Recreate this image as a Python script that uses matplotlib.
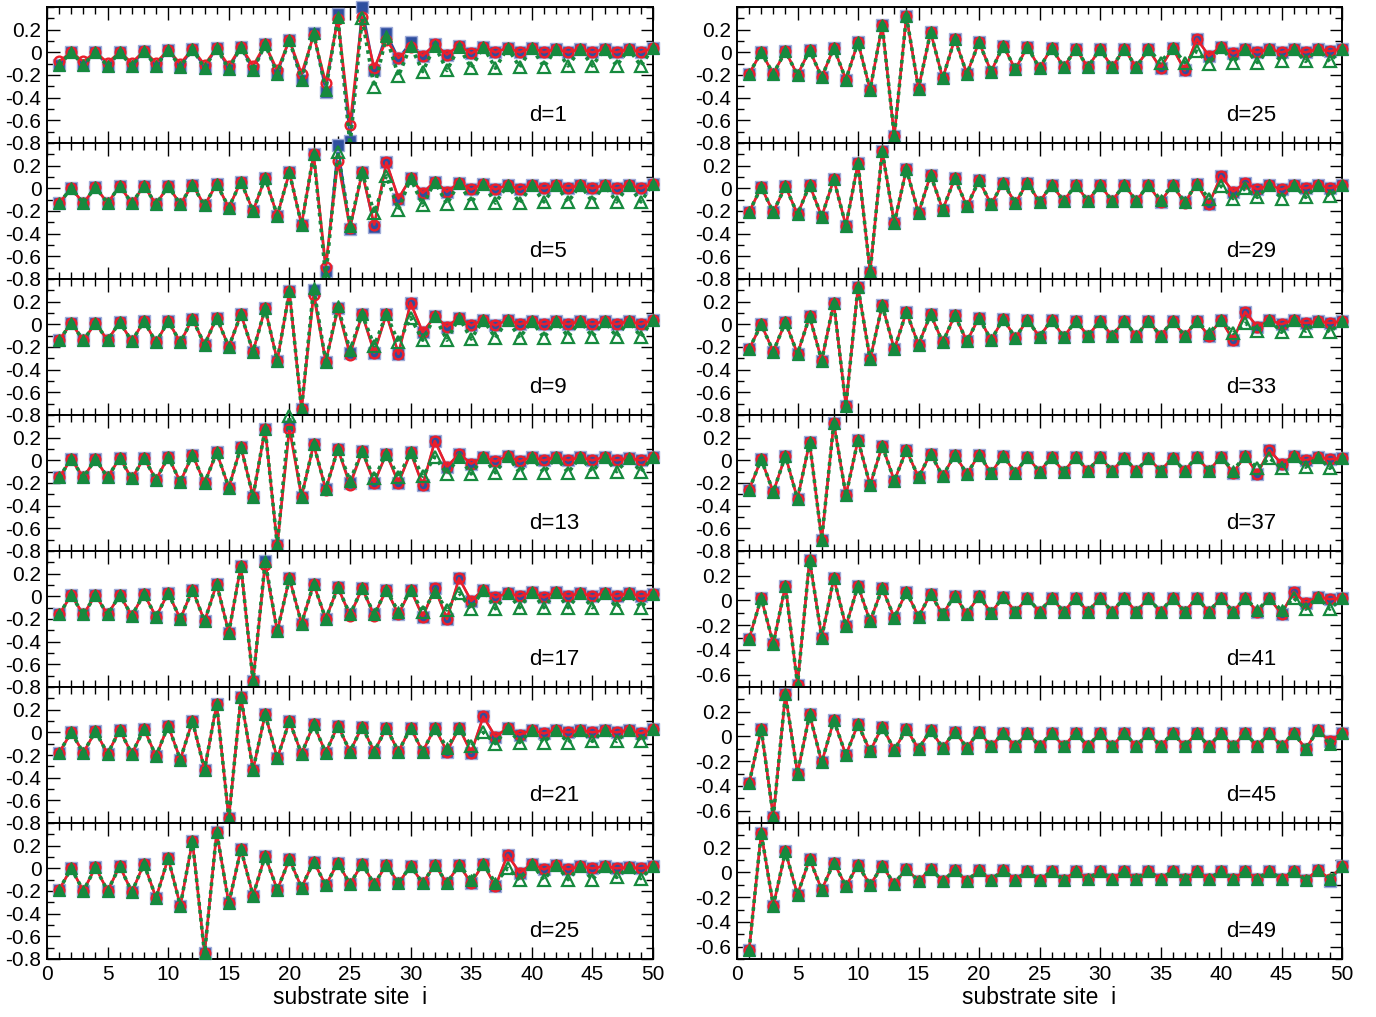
import numpy as np
import matplotlib
matplotlib.use('Agg')
from matplotlib import pyplot as plt
from matplotlib.ticker import MultipleLocator, FixedLocator, FuncFormatter

plt.rcParams['font.family'] = ['Liberation Sans', 'DejaVu Sans']
plt.rcParams['axes.unicode_minus'] = False

sites = np.arange(1, 51)

# blue squares: full profile; red circles / green triangles: only where they differ from blue
blue_d1 = [-0.11, 0.0, -0.11, 0.0, -0.12, 0.0, -0.12, 0.01, -0.12, 0.02,
           -0.13, 0.03, -0.14, 0.04, -0.15, 0.05, -0.16, 0.07, -0.19, 0.11,
           -0.24, 0.17, -0.35, 0.34, -0.78, 0.4, -0.16, 0.17, -0.05, 0.09,
           -0.03, 0.07, -0.02, 0.06, -0.01, 0.05, 0.0, 0.04, 0.0, 0.04,
           0.0, 0.03, 0.0, 0.03, 0.0, 0.03, 0.0, 0.03, 0.0, 0.04]
red_d1 = {1: -0.08, 3: -0.08, 5: -0.09, 7: -0.09, 9: -0.09, 11: -0.1, 13: -0.11, 15: -0.12,
          17: -0.12, 19: -0.16, 21: -0.19, 22: 0.15, 23: -0.27, 24: 0.29, 25: -0.64, 26: 0.31,
          27: -0.14, 28: 0.11, 30: 0.05}
green_d1 = {23: -0.33, 24: 0.31, 25: -0.82, 26: 0.3, 27: -0.31, 28: 0.14, 29: -0.21, 30: 0.06,
            31: -0.17, 32: 0.06, 33: -0.16, 34: 0.05, 35: -0.14, 36: 0.05, 37: -0.14, 39: -0.13,
            41: -0.13, 43: -0.12, 45: -0.12, 47: -0.12, 49: -0.12}

blue_d5 = [-0.13, 0.0, -0.13, 0.01, -0.13, 0.02, -0.13, 0.02, -0.14, 0.02,
           -0.14, 0.03, -0.15, 0.04, -0.17, 0.06, -0.2, 0.09, -0.24, 0.14,
           -0.32, 0.3, -0.73, 0.38, -0.36, 0.14, -0.34, 0.23, -0.09, 0.09,
           -0.04, 0.06, -0.03, 0.05, -0.01, 0.04, -0.01, 0.03, -0.01, 0.03,
           0.0, 0.03, 0.0, 0.03, 0.0, 0.03, 0.0, 0.03, 0.0, 0.04]
red_d5 = {23: -0.69, 24: 0.24, 25: -0.35, 27: -0.32}
green_d5 = {23: -0.78, 24: 0.32, 25: -0.33, 27: -0.22, 28: 0.11, 29: -0.19, 31: -0.15, 33: -0.14,
            35: -0.13, 37: -0.13, 39: -0.13, 41: -0.12, 43: -0.12, 45: -0.12, 47: -0.12, 49: -0.12}

blue_d9 = [-0.14, 0.01, -0.14, 0.01, -0.14, 0.02, -0.15, 0.03, -0.16, 0.03,
           -0.16, 0.05, -0.18, 0.06, -0.2, 0.09, -0.24, 0.14, -0.32, 0.29,
           -0.75, 0.3, -0.33, 0.14, -0.25, 0.09, -0.25, 0.09, -0.26, 0.19,
           -0.07, 0.07, -0.02, 0.06, -0.01, 0.04, -0.01, 0.04, 0.0, 0.03,
           0.0, 0.03, 0.0, 0.03, 0.0, 0.03, 0.0, 0.03, 0.0, 0.04]
red_d9 = {22: 0.26, 25: -0.27}
green_d9 = {22: 0.32, 24: 0.16, 25: -0.23, 27: -0.19, 29: -0.16, 30: 0.06, 31: -0.14, 33: -0.14,
            35: -0.13, 37: -0.12, 39: -0.12, 41: -0.12, 43: -0.11, 45: -0.11, 47: -0.11, 49: -0.11}

blue_d13 = [-0.15, 0.01, -0.15, 0.01, -0.15, 0.02, -0.16, 0.02, -0.17, 0.03,
            -0.19, 0.05, -0.2, 0.07, -0.24, 0.12, -0.32, 0.28, -0.75, 0.3,
            -0.32, 0.14, -0.25, 0.1, -0.2, 0.08, -0.2, 0.06, -0.2, 0.07,
            -0.22, 0.17, -0.06, 0.06, -0.03, 0.03, -0.01, 0.04, -0.01, 0.03,
            0.0, 0.03, 0.0, 0.03, 0.0, 0.03, 0.0, 0.02, 0.0, 0.03]
red_d13 = {20: 0.28, 23: -0.26, 25: -0.22}
green_d13 = {20: 0.39, 25: -0.18, 27: -0.16, 29: -0.15, 31: -0.14, 32: 0.03, 33: -0.12, 34: 0.03,
             35: -0.12, 37: -0.11, 39: -0.11, 41: -0.11, 43: -0.11, 45: -0.1, 47: -0.1, 49: -0.1}

blue_d17 = [-0.16, 0.01, -0.16, 0.01, -0.16, 0.01, -0.17, 0.02, -0.18, 0.03,
            -0.2, 0.06, -0.22, 0.11, -0.32, 0.27, -0.75, 0.31, -0.31, 0.16,
            -0.24, 0.11, -0.2, 0.08, -0.16, 0.07, -0.16, 0.06, -0.16, 0.06,
            -0.18, 0.07, -0.2, 0.16, -0.04, 0.06, -0.01, 0.03, 0.0, 0.04,
            -0.01, 0.04, 0.0, 0.03, 0.0, 0.03, 0.0, 0.03, 0.0, 0.02]
red_d17 = {18: 0.28, 25: -0.17, 27: -0.17}
green_d17 = {29: -0.14, 31: -0.14, 32: 0.04, 33: -0.12, 34: 0.03, 35: -0.11, 37: -0.11, 39: -0.1,
             41: -0.1, 43: -0.1, 45: -0.1, 47: -0.1, 49: -0.1}

blue_d21 = [-0.18, 0.0, -0.18, 0.01, -0.19, 0.02, -0.19, 0.03, -0.21, 0.06,
            -0.24, 0.1, -0.33, 0.25, -0.76, 0.31, -0.33, 0.16, -0.23, 0.1,
            -0.19, 0.07, -0.18, 0.06, -0.17, 0.05, -0.17, 0.04, -0.17, 0.04,
            -0.17, 0.04, -0.17, 0.04, -0.18, 0.14, -0.04, 0.04, -0.02, 0.02,
            -0.01, 0.02, 0.0, 0.02, 0.0, 0.02, 0.0, 0.02, -0.01, 0.03]
red_d21 = {}
green_d21 = {33: -0.14, 35: -0.12, 36: 0.0, 37: -0.1, 39: -0.09, 41: -0.09, 43: -0.09, 45: -0.08,
             47: -0.08, 49: -0.08}

blue_d25L = [-0.19, 0.0, -0.2, 0.01, -0.2, 0.02, -0.21, 0.04, -0.26, 0.09,
             -0.33, 0.24, -0.75, 0.32, -0.31, 0.17, -0.24, 0.11, -0.19, 0.08,
             -0.17, 0.06, -0.15, 0.05, -0.14, 0.04, -0.14, 0.03, -0.13, 0.02,
             -0.13, 0.03, -0.13, 0.03, -0.13, 0.04, -0.16, 0.12, -0.04, 0.04,
             -0.01, 0.03, -0.01, 0.02, 0.0, 0.02, 0.0, 0.01, 0.0, 0.02]
red_d25L = {}
green_d25L = {35: -0.1, 37: -0.13, 38: 0.0, 39: -0.1, 41: -0.1, 43: -0.1, 45: -0.1, 47: -0.08, 49: -0.09}

blue_d25R = [-0.19, 0.0, -0.19, 0.01, -0.2, 0.02, -0.22, 0.04, -0.24, 0.09,
             -0.33, 0.24, -0.74, 0.32, -0.32, 0.18, -0.23, 0.12, -0.19, 0.09,
             -0.17, 0.06, -0.15, 0.05, -0.14, 0.04, -0.13, 0.03, -0.13, 0.03,
             -0.13, 0.03, -0.13, 0.03, -0.14, 0.04, -0.16, 0.12, -0.03, 0.05,
             -0.01, 0.03, 0.0, 0.03, 0.0, 0.03, 0.0, 0.03, 0.01, 0.03]
red_d25R = {}
green_d25R = {35: -0.09, 37: -0.09, 38: 0.01, 39: -0.1, 41: -0.09, 43: -0.09, 45: -0.08, 47: -0.08, 49: -0.08}

blue_d29 = [-0.21, 0.01, -0.21, 0.02, -0.23, 0.03, -0.25, 0.08, -0.33, 0.22,
            -0.74, 0.33, -0.31, 0.17, -0.22, 0.12, -0.19, 0.09, -0.16, 0.07,
            -0.14, 0.05, -0.13, 0.05, -0.12, 0.03, -0.11, 0.03, -0.11, 0.03,
            -0.11, 0.03, -0.11, 0.03, -0.12, 0.03, -0.12, 0.04, -0.14, 0.11,
            -0.03, 0.05, -0.01, 0.03, -0.01, 0.03, 0.0, 0.03, 0.0, 0.03]
red_d29 = {37: -0.13}
green_d29 = {35: -0.1, 39: -0.09, 40: 0.02, 41: -0.09, 42: 0.0, 43: -0.08, 45: -0.09, 47: -0.08, 49: -0.07}

blue_d33 = [-0.22, 0.0, -0.24, 0.02, -0.26, 0.07, -0.32, 0.19, -0.72, 0.33,
            -0.31, 0.17, -0.22, 0.11, -0.18, 0.09, -0.16, 0.08, -0.15, 0.06,
            -0.14, 0.05, -0.12, 0.04, -0.11, 0.04, -0.11, 0.03, -0.1, 0.03,
            -0.1, 0.03, -0.1, 0.03, -0.1, 0.03, -0.1, 0.03, -0.1, 0.04,
            -0.14, 0.11, -0.02, 0.04, 0.0, 0.04, 0.01, 0.03, 0.01, 0.03]
red_d33 = {}
green_d33 = {39: -0.08, 41: -0.08, 42: 0.01, 43: -0.06, 45: -0.07, 47: -0.06, 49: -0.07}

blue_d37 = [-0.26, 0.01, -0.28, 0.04, -0.34, 0.16, -0.7, 0.33, -0.31, 0.18,
            -0.22, 0.13, -0.18, 0.09, -0.15, 0.06, -0.14, 0.05, -0.12, 0.05,
            -0.11, 0.04, -0.11, 0.03, -0.1, 0.03, -0.1, 0.03, -0.09, 0.03,
            -0.09, 0.02, -0.09, 0.02, -0.09, 0.02, -0.09, 0.03, -0.09, 0.03,
            -0.11, 0.04, -0.12, 0.09, -0.03, 0.04, 0.0, 0.03, 0.01, 0.02]
red_d37 = {}
green_d37 = {41: -0.09, 43: -0.07, 44: 0.02, 45: -0.07, 47: -0.06, 49: -0.07}

blue_d41 = [-0.31, 0.02, -0.35, 0.12, -0.68, 0.33, -0.3, 0.18, -0.21, 0.12,
            -0.17, 0.1, -0.14, 0.07, -0.13, 0.05, -0.11, 0.04, -0.11, 0.04,
            -0.1, 0.03, -0.09, 0.02, -0.09, 0.02, -0.09, 0.02, -0.09, 0.02,
            -0.09, 0.02, -0.09, 0.02, -0.09, 0.02, -0.09, 0.02, -0.09, 0.02,
            -0.09, 0.02, -0.09, 0.02, -0.11, 0.07, -0.02, 0.03, 0.01, 0.02]
red_d41 = {}
green_d41 = {43: -0.08, 45: -0.08, 46: 0.02, 47: -0.07, 49: -0.07}

blue_d45 = [-0.38, 0.06, -0.65, 0.34, -0.3, 0.18, -0.21, 0.13, -0.15, 0.1,
            -0.12, 0.08, -0.11, 0.06, -0.1, 0.05, -0.09, 0.04, -0.09, 0.04,
            -0.08, 0.03, -0.08, 0.03, -0.08, 0.03, -0.08, 0.03, -0.08, 0.03,
            -0.08, 0.03, -0.08, 0.03, -0.08, 0.03, -0.08, 0.03, -0.08, 0.03,
            -0.08, 0.03, -0.08, 0.03, -0.08, 0.03, -0.1, 0.05, -0.04, 0.03]
red_d45 = {}
green_d45 = {49: -0.06}

blue_d49 = [-0.63, 0.32, -0.27, 0.17, -0.18, 0.11, -0.14, 0.08, -0.11, 0.06,
            -0.1, 0.05, -0.09, 0.03, -0.07, 0.03, -0.07, 0.02, -0.07, 0.02,
            -0.06, 0.02, -0.06, 0.01, -0.06, 0.01, -0.06, 0.01, -0.05, 0.01,
            -0.05, 0.01, -0.05, 0.01, -0.05, 0.01, -0.05, 0.01, -0.05, 0.01,
            -0.05, 0.01, -0.05, 0.01, -0.05, 0.01, -0.06, 0.02, -0.07, 0.05]
red_d49 = {49: -0.05}
green_d49 = {49: -0.05}

left_panels = [('d=1', blue_d1, red_d1, green_d1), ('d=5', blue_d5, red_d5, green_d5),
               ('d=9', blue_d9, red_d9, green_d9), ('d=13', blue_d13, red_d13, green_d13),
               ('d=17', blue_d17, red_d17, green_d17), ('d=21', blue_d21, red_d21, green_d21),
               ('d=25', blue_d25L, red_d25L, green_d25L)]
right_panels = [('d=25', blue_d25R, red_d25R, green_d25R), ('d=29', blue_d29, red_d29, green_d29),
                ('d=33', blue_d33, red_d33, green_d33), ('d=37', blue_d37, red_d37, green_d37),
                ('d=41', blue_d41, red_d41, green_d41), ('d=45', blue_d45, red_d45, green_d45),
                ('d=49', blue_d49, red_d49, green_d49)]

BLUE = '#2f4f9f'
RED = '#ea1f2c'
GREEN = '#168a3e'


def with_overrides(base, over):
    vals = np.array(base, dtype=float)
    for k, v in over.items():
        vals[k - 1] = v
    return vals


def ytick_fmt(v, pos):
    if abs(v) < 1e-9:
        return '0'
    return '%.1f' % v


fig = plt.figure(figsize=(13.76, 10.17), dpi=100)
W, H = 1376.0, 1017.0
panel_h = 136.0

for col, (panels, x0, x1, tx) in enumerate([(left_panels, 47, 653, 0.795),
                                             (right_panels, 737, 1342, 0.808)]):
    for k, (label, blue, red_over, green_over) in enumerate(panels):
        top = 7 + panel_h * k
        ax = fig.add_axes([x0 / W, 1 - (top + panel_h) / H, (x1 - x0) / W, panel_h / H])
        b = np.array(blue, dtype=float)
        r = with_overrides(blue, red_over)
        g = with_overrides(blue, green_over)

        ax.plot(sites, b, '-', color=BLUE, lw=1.5, marker='s', ms=8.5,
                mfc=BLUE, mec='#9eaad8', mew=1.0, clip_on=False, zorder=3)
        ax.plot(sites, r, '-', color=RED, lw=1.9, marker='o', ms=7,
                mfc='none', mec=RED, mew=1.7, clip_on=False, zorder=4)
        ax.plot(sites, g, color=GREEN, lw=2.6, ls=(0, (1, 1.2)), clip_on=False, zorder=5)
        diff = np.abs(g - b) > 0.035
        ax.plot(sites[~diff], g[~diff], ls='none', marker='^', ms=8.5, mfc=GREEN, mec=GREEN,
                mew=0.8, clip_on=False, zorder=6)
        ax.plot(sites[diff], g[diff], ls='none', marker='^', ms=8.5, mfc='none', mec=GREEN,
                mew=1.6, clip_on=False, zorder=6)

        low = -0.7 if label in ('d=41', 'd=45', 'd=49') else -0.8
        ax.set_ylim(low, 0.4)
        ax.set_xlim(0, 50)
        ax.xaxis.set_major_locator(MultipleLocator(5))
        ax.xaxis.set_minor_locator(MultipleLocator(1))
        ticks = np.round(np.arange(-0.8 if low < -0.75 else -0.6, 0.21, 0.2), 1)
        ax.yaxis.set_major_locator(FixedLocator(ticks))
        ax.yaxis.set_minor_locator(MultipleLocator(0.1))
        ax.yaxis.set_major_formatter(FuncFormatter(ytick_fmt))
        ax.tick_params(which='both', direction='in', top=True, right=True, labelsize=15,
                       width=1.0, pad=4)
        ax.tick_params(which='major', length=9)
        ax.tick_params(which='minor', length=5)
        for sp in ax.spines.values():
            sp.set_linewidth(1.4)
        if k < len(panels) - 1:
            ax.tick_params(labelbottom=False)
        else:
            ax.set_xlabel('substrate site  i', fontsize=16.5, labelpad=2)
        ax.text(tx, 0.2, label, transform=ax.transAxes, fontsize=16, ha='left', va='center')

fig.savefig('out.png', dpi=100)
